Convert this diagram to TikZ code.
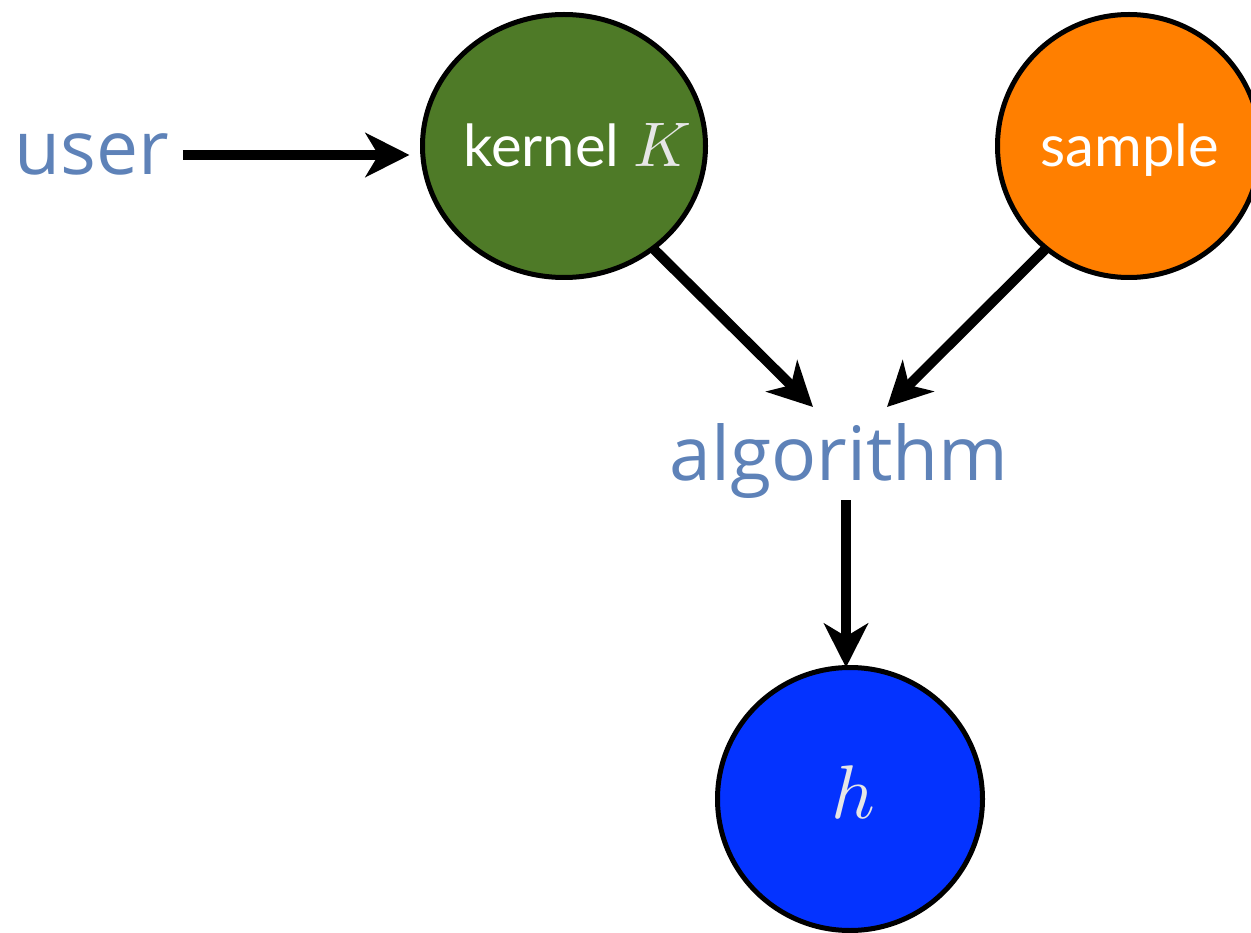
\documentclass[tikz,border=0pt]{standalone}
\usepackage{fontspec}
\setmainfont{Open Sans}
\newfontfamily\gillfont{Lato}
\usetikzlibrary{arrows.meta,shapes.geometric}
\definecolor{kgreen}{HTML}{4E7A27}
\definecolor{sorange}{HTML}{FF7F00}
\definecolor{hblue}{HTML}{0433FF}
\definecolor{labblue}{HTML}{5E82B8}
\definecolor{mathgray}{HTML}{E6E6E6}
\tikzset{
  bubble/.style={ellipse, draw=black, line width=5pt, inner sep=0pt, outer sep=0pt},
  arr/.style={line width=10pt, -{Stealth[length=44pt,width=44pt,inset=13pt]}},
  bigtext/.style={text=labblue, font=\fontsize{75}{80}\selectfont, inner sep=2pt},
  intext/.style={text=white, font=\gillfont\fontsize{58}{62}\selectfont, inner sep=0pt}
}
\begin{document}
\begin{tikzpicture}[x=1pt,y=-1pt]
\useasboundingbox (0,0) rectangle (1251,933);
\node[bubble, fill=kgreen, minimum width=283pt, minimum height=263pt] (kernel) at (564,146) {};
\node[bubble, fill=sorange, minimum width=263pt, minimum height=263pt] (sample) at (1129,146) {};
\node[bubble, fill=hblue, minimum width=265pt, minimum height=263pt] (h) at (850,799) {};
\node[intext, anchor=base west] (kerneltext) at (463,167) {kernel\hspace{14pt}\textcolor{mathgray}{\fontsize{10}{12}\selectfont\scalebox{6.3}{$K$}}};
\node[intext, anchor=base] (sampletext) at (1130,167) {sample};
\node[text=mathgray, font=\fontsize{10}{12}\selectfont, anchor=base, inner sep=0pt] (htext) at (853,818) {\scalebox{7.6}{$h$}};
\node[bigtext, anchor=base west] (user) at (12,175) {user};
\node[bigtext, anchor=base] (alg) at (839,480) {algorithm};
\coordinate (algL) at (813,407);
\coordinate (algR) at (887,407);
\draw[arr, shorten <=12pt, shorten >=13pt] (user.east |- 0,155) -- (kernel.west |- 0,155);
\draw[arr] (kernel.-49) -- (algL);
\draw[arr] (sample.-129) -- (algR);
\draw[arr] (alg.south -| 846,0) -- (h.north -| 846,0);
\end{tikzpicture}
\end{document}
